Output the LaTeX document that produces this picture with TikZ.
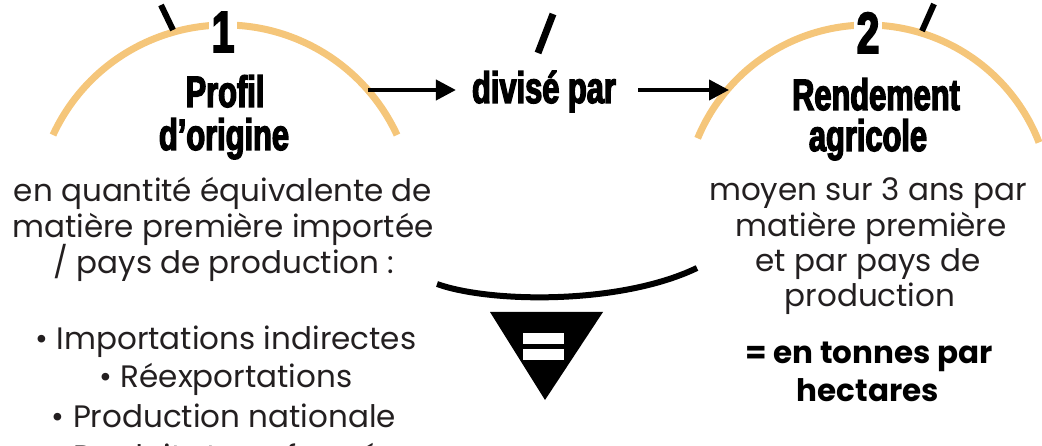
\documentclass[tikz,border=0pt]{standalone}
\usepackage{fontspec}
\setmainfont{Poppins}
\newfontfamily\heavy[FakeStretch=0.7,FakeBold=3]{Liberation Sans}
\usetikzlibrary{arrows.meta}
\definecolor{arcorange}{RGB}{245,198,122}
\definecolor{textgray}{RGB}{35,31,32}
\tikzset{
  arcline/.style={draw=arcorange, line width=7pt},
  title/.style={font=\heavy\bfseries\fontsize{44}{44}\selectfont, anchor=base, inner sep=0pt},
  digit/.style={font=\heavy\bfseries\fontsize{58}{58}\selectfont, anchor=base, fill=white, inner xsep=3pt, inner ysep=0pt},
  body/.style={font=\fontsize{31}{31}\selectfont, anchor=base, inner sep=0pt, text=textgray},
  boldbody/.style={font=\bfseries\fontsize{31}{31}\selectfont, anchor=base, inner sep=0pt, text=black},
  slashline/.style={line width=6pt},
  flow/.style={line width=4pt, -{Triangle[length=20pt,width=20pt]}},
}
\begin{document}
\begin{tikzpicture}[x=1pt,y=-1pt]
\useasboundingbox (0,0) rectangle (1042,446);
\clip (0,0) rectangle (1042,446);
% arcs
\draw[arcline] (225,214.5) ++(-155.2:189.5) arc[start angle=-155.2, end angle=-24.8, radius=189.5];
\draw[arcline] (867.5,209) ++(-157.4:184) arc[start angle=-157.4, end angle=-21.2, radius=184];
% digits
\node[digit] (one) at (223,52) {1};
\node[digit] (two) at (868,53) {2};
% slashes
\draw[slashline] (161,5) -- (173,30);
\draw[slashline, line width=7pt] (553,14) -- (538,53);
\draw[slashline] (934,4) -- (922,31);
% titles
\node[title] (t1a) at (225,107) {Profil};
\node[title] (t1b) at (224,150) {d’origine};
\node[title] (div) at (544,103) {divisé par};
\node[title] (t2a) at (876,110) {Rendement};
\node[title] (t2b) at (868,151) {agricole};
% arrows
\coordinate (a1s) at (368,90);
\coordinate (a2e) at (729,90);
\draw[flow] (a1s) -- ([xshift=-16pt]a1s -| div.west);
\draw[flow] ([xshift=22pt]a2e -| div.east) -- (a2e);
% left body
\node[body] (l1) at (223,202) {en quantité équivalente de};
\node[body] (l2) at (223,238) {matière première importée};
\node[body] (l3) at (224,274) {/ pays de production :};
\node[body] (b1) at (226,350) {• Importations indirectes};
\node[body] (b2) at (226,388) {• Réexportations};
\node[body] (b3) at (224,428) {• Production nationale};
\node[body] (b4) at (224,467) {• Produits transformés};
% right body
\node[body] (r1) at (868,201) {moyen sur 3 ans par};
\node[body] (r2) at (871,237) {matière première};
\node[body] (r3) at (868,272) {et par pays de};
\node[body] (r4) at (870,307) {production};
\node[boldbody] (r5) at (869,363) {= en tonnes par};
\node[boldbody] (r6) at (868,402) {hectares};
% bottom curve and triangle
\coordinate (c1) at (437,284);
\coordinate (c2) at (697,268);
\draw[line width=6pt] (c1) .. controls (490,303) and (620,305) .. (c2);
\fill (490,312) -- (603,312) -- (545,400) -- cycle;
\fill[white] (523,333) rectangle (564,344);
\fill[white] (523,349) rectangle (564,360);
\end{tikzpicture}
\end{document}
